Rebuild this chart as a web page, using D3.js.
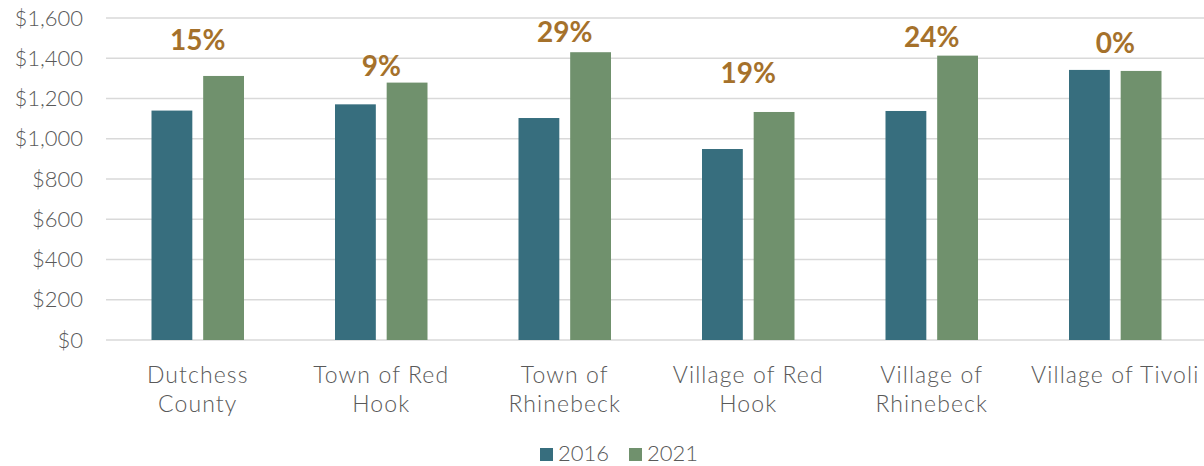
<!DOCTYPE html>
<html>
<head>
<meta charset="utf-8">
<script src="https://cdn.jsdelivr.net/npm/d3@7"></script>
<style>
  body { margin: 0; background: #fff; }
  text { font-family: "Century Gothic", Lato, sans-serif; }
</style>
</head>
<body>
<div id="chart"></div>
<script>
// datos del grafico
var categories = ["Dutchess\nCounty", "Town of Red\nHook", "Town of\nRhinebeck", "Village of Red\nHook", "Village of\nRhinebeck", "Village of Tivoli"]
var series = ["2016", "2021"]
var values2016 = [1140, 1171, 1103, 949, 1138, 1342]
var values2021 = [1312, 1279, 1430, 1133, 1413, 1337]
var pctLabels = ["15%", "9%", "29%", "19%", "24%", "0%"]
var pctLevel = [1441, 1312, 1482, 1277, 1457, 1425]   // altura (en $) donde va la etiqueta
var yTicks = [0, 200, 400, 600, 800, 1000, 1200, 1400, 1600]

var width = 1204
var height = 466
var colors = ["#376e7e", "#70916d"]

var svg = d3.select('#chart')
    .append('svg')
    .attr('width', width)
    .attr('height', height)

// escalas
var scaleX = d3.scaleBand()
    .domain(categories)
    .range([106, 1207])

var scaleSeries = d3.scaleBand()
    .domain(series)
    .range([45.5, 138])
    .paddingInner(0.21)

var scaleY = d3.scaleLinear()
    .domain([0, 1600])
    .range([340, 18])

var color = d3.scaleOrdinal().domain(series).range(colors)

// lineas de la cuadricula
svg.append('g')
    .selectAll('line')
    .data(yTicks)
    .enter()
    .append('line')
    .attr('x1', 106)
    .attr('x2', width)
    .attr('y1', d => scaleY(d))
    .attr('y2', d => scaleY(d))
    .attr('stroke', '#d9d9d9')
    .attr('stroke-width', 1.5)

// eje Y
var yaxis = d3.axisLeft(scaleY)
    .tickValues(yTicks)
    .tickSize(0)
    .tickPadding(0)
    .tickFormat(d => '$' + d3.format(',')(d))

svg.append('g')
    .attr('transform', 'translate(83,0)')
    .call(yaxis)
    .call(g => g.select('.domain').remove())
    .selectAll('text')
    .attr('font-size', 22)
    .attr('font-weight', 300)
    .attr('fill', '#595959')
    .style('font-family', '"Century Gothic", Lato, sans-serif')

// barras
var rows = categories.map((c, i) => ({cat: c, values: [
    {serie: '2016', value: values2016[i]},
    {serie: '2021', value: values2021[i]}
]}))

var groups = svg.append('g')
    .selectAll('g')
    .data(rows)
    .enter()
    .append('g')
    .attr('transform', d => 'translate(' + scaleX(d.cat) + ',0)')

groups.selectAll('rect')
    .data(d => d.values)
    .enter()
    .append('rect')
    .attr('x', d => scaleSeries(d.serie))
    .attr('y', d => scaleY(d.value))
    .attr('width', scaleSeries.bandwidth())
    .attr('height', d => scaleY(0) - scaleY(d.value))
    .attr('fill', d => color(d.serie))

// etiquetas de porcentaje
svg.append('g')
    .selectAll('text')
    .data(pctLabels)
    .enter()
    .append('text')
    .attr('x', (d, i) => scaleX(categories[i]) + scaleX.bandwidth() / 2)
    .attr('y', (d, i) => scaleY(pctLevel[i]))
    .attr('text-anchor', 'middle')
    .attr('font-size', 28)
    .attr('font-weight', 'bold')
    .attr('fill', '#a5712b')
    .text(d => d)

// eje X (etiquetas en dos lineas)
var xaxis = d3.axisBottom(scaleX).tickSize(0).tickFormat('')
svg.append('g')
    .attr('transform', 'translate(0,340)')
    .call(xaxis)
    .call(g => g.select('.domain').remove())

var xlabels = svg.append('g')
    .selectAll('text')
    .data(categories)
    .enter()
    .append('text')
    .attr('x', d => scaleX(d) + scaleX.bandwidth() / 2)
    .attr('y', 383)
    .attr('text-anchor', 'middle')
    .attr('font-size', 23)
    .attr('font-weight', 300)
    .attr('letter-spacing', 1.1)
    .attr('fill', '#595959')

xlabels.selectAll('tspan')
    .data(d => d.split('\n'))
    .enter()
    .append('tspan')
    .attr('x', function() { return d3.select(this.parentNode).attr('x') })
    .attr('dy', (d, i) => i === 0 ? 0 : 29)
    .text(d => d)

// leyenda
var legend = svg.append('g')
    .selectAll('g')
    .data(series)
    .enter()
    .append('g')
    .attr('transform', (d, i) => 'translate(' + (540 + i * 89) + ',448)')

legend.append('rect')
    .attr('width', 13)
    .attr('height', 13)
    .attr('fill', d => color(d))

legend.append('text')
    .attr('x', 18)
    .attr('y', 13)
    .attr('font-size', 22)
    .attr('font-weight', 300)
    .attr('fill', '#595959')
    .text(d => d)
</script>
</body>
</html>
